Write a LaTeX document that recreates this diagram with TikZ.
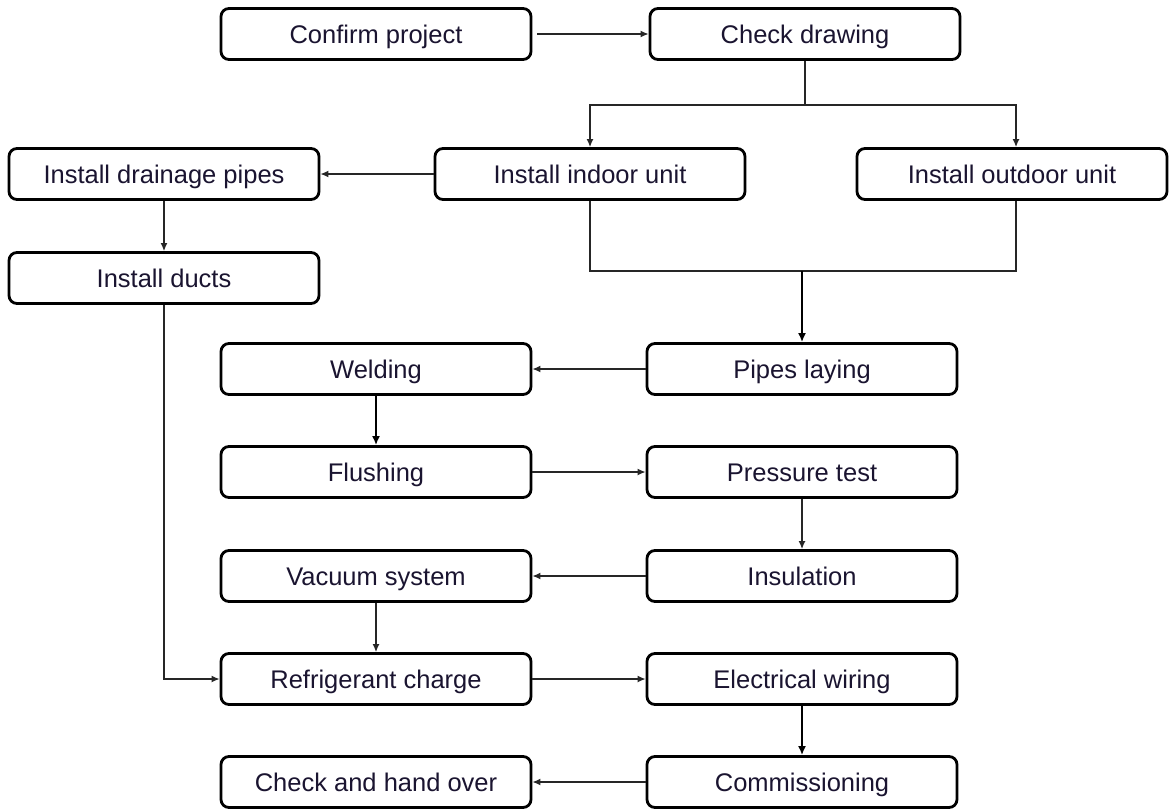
\documentclass[tikz,border=0pt]{standalone}
\usepackage{fontspec}
\setmainfont{Liberation Sans}
\usetikzlibrary{arrows.meta}
\definecolor{txt}{HTML}{1A1430}
\tikzset{
  stepbox/.style={draw=black, line width=2.8pt, rounded corners=8pt, minimum width=310pt, minimum height=51pt, inner sep=0pt, text height=18.5pt, text depth=0pt, text=txt, font=\fontsize{25.5}{30}\selectfont, fill=white},
  conn/.style={draw=black!85, line width=1.4pt, -{Latex[length=8pt,width=7pt]}},
  thickconn/.style={draw=black, line width=2.8pt, -{Latex[length=9pt,width=8pt]}},
  plain/.style={draw=black!85, line width=1.4pt}
}
\begin{document}
\begin{tikzpicture}[x=1pt,y=-1pt]
\useasboundingbox (0,0) rectangle (1169,811);
\node[stepbox] (confirm) at (376,34) {Confirm project};
\node[stepbox] (checkd) at (805,34) {Check drawing};
\node[stepbox] (drain) at (164,174) {Install drainage pipes};
\node[stepbox] (indoor) at (590,174) {Install indoor unit};
\node[stepbox] (outdoor) at (1012,174) {Install outdoor unit};
\node[stepbox] (ducts) at (164,278) {Install ducts};
\node[stepbox] (pipes) at (802,369) {Pipes laying};
\node[stepbox] (weld) at (376,369) {Welding};
\node[stepbox] (flush) at (376,472) {Flushing};
\node[stepbox] (press) at (802,472) {Pressure test};
\node[stepbox] (vac) at (376,576) {Vacuum system};
\node[stepbox] (insul) at (802,576) {Insulation};
\node[stepbox] (refrig) at (376,679) {Refrigerant charge};
\node[stepbox] (elec) at (802,679) {Electrical wiring};
\node[stepbox] (checkh) at (376,782) {Check and hand over};
\node[stepbox] (comm) at (802,782) {Commissioning};

\coordinate (j1) at (805,105);
\coordinate (j2) at (802,271);

\draw[conn] ([xshift=5pt]confirm.east) -- (checkd.west);
\draw[plain] (checkd.south) -- (j1);
\draw[conn] (j1) -| (indoor.north);
\draw[conn] (j1) -| ([xshift=4pt]outdoor.north);
\draw[conn] (indoor.west) -- (drain.east);
\draw[conn] (drain.south) -- (ducts.north);
\draw[plain] (indoor.south) -- (indoor.south |- j2) -- ([xshift=4pt]outdoor.south |- j2) -- ([xshift=4pt]outdoor.south);
\draw[thickconn] (j2) -- (pipes.north);
\draw[conn] (pipes.west) -- (weld.east);
\draw[thickconn] (weld.south) -- (flush.north);
\draw[conn] (flush.east) -- (press.west);
\draw[conn] (press.south) -- (insul.north);
\draw[conn] (insul.west) -- (vac.east);
\draw[conn] (vac.south) -- (refrig.north);
\draw[conn] (ducts.south) |- (refrig.west);
\draw[conn] (refrig.east) -- (elec.west);
\draw[thickconn] (elec.south) -- (comm.north);
\draw[conn] (comm.west) -- (checkh.east);
\end{tikzpicture}
\end{document}
